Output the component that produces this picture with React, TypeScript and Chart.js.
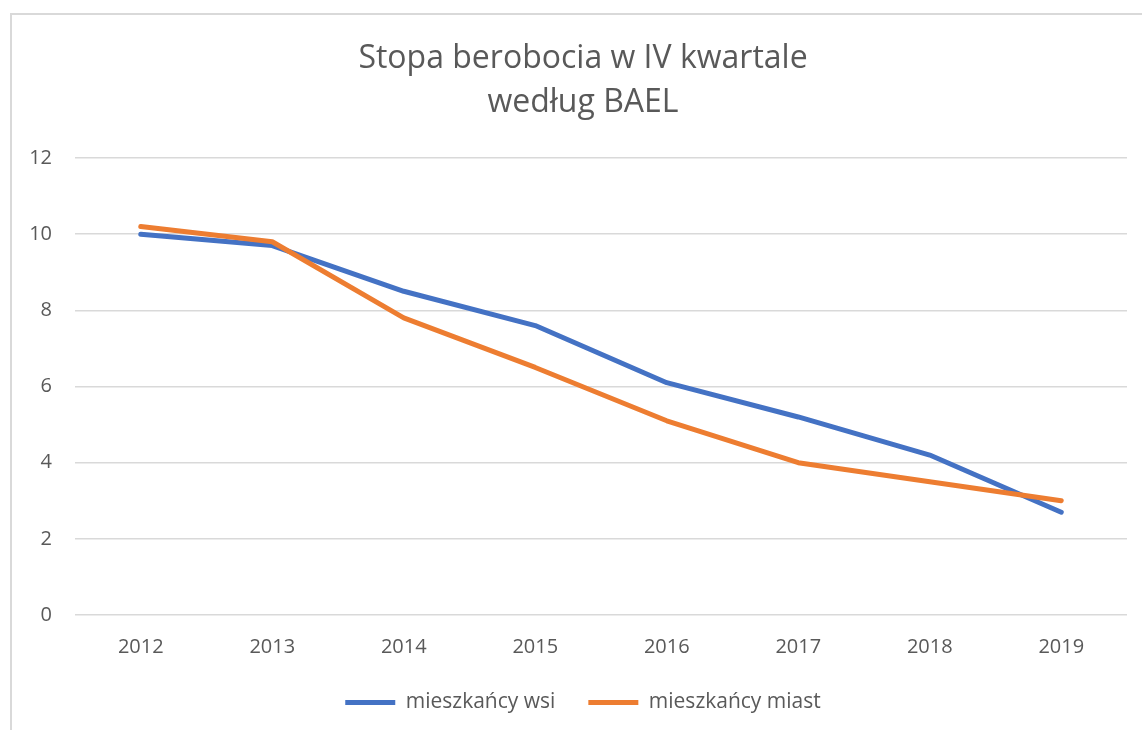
import React, { useEffect, useRef } from "react";
import { Chart, registerables } from "chart.js";

Chart.register(...registerables);

const categories = ["2012", "2013", "2014", "2015", "2016", "2017", "2018", "2019"];
const wsi = [10.0, 9.7, 8.5, 7.6, 6.1, 5.2, 4.2, 2.7];
const miast = [10.2, 9.8, 7.8, 6.5, 5.1, 4.0, 3.5, 3.0];
const titleLines = ["Stopa berobocia w IV kwartale", "według BAEL"];

const FONT = "'Open Sans', sans-serif";
const TEXT = "#595959";
const GRID = "#d9d9d9";

const borderPlugin = {
  id: "outerBorder",
  beforeDraw(chart: any) {
    const ctx = chart.ctx;
    ctx.save();
    ctx.fillStyle = "#ffffff";
    ctx.fillRect(0, 0, chart.width, chart.height);
    ctx.strokeStyle = GRID;
    ctx.lineWidth = 2;
    ctx.beginPath();
    ctx.moveTo(11, chart.height);
    ctx.lineTo(11, 14);
    ctx.lineTo(chart.width, 14);
    ctx.stroke();
    ctx.restore();
  },
  afterLayout(chart: any) {
    if (chart.scales.y) chart.scales.y.left = 12;
  },
};

export default function App() {
  const ref = useRef<HTMLCanvasElement | null>(null);
  useEffect(() => {
    if (!ref.current) return;
    const chart = new Chart(ref.current, {
      type: "line",
      data: {
        labels: categories,
        datasets: [
          {
            label: "mieszkańcy wsi",
            data: wsi,
            borderColor: "#4472C4",
            backgroundColor: "#4472C4",
            borderWidth: 5,
            pointRadius: 0,
            tension: 0,
            borderCapStyle: "round",
            borderJoinStyle: "round",
            order: 1,
          },
          {
            label: "mieszkańcy miast",
            data: miast,
            borderColor: "#ED7D31",
            backgroundColor: "#ED7D31",
            borderWidth: 5,
            pointRadius: 0,
            tension: 0,
            borderCapStyle: "round",
            borderJoinStyle: "round",
            order: 0,
          },
        ],
      },
      options: {
        animation: false,
        responsive: false,
        maintainAspectRatio: false,
        layout: { padding: { left: 39, right: 15, top: 0, bottom: 7 } },
        plugins: {
          title: {
            display: true,
            text: titleLines,
            color: TEXT,
            font: { family: FONT, size: 32, weight: "normal", lineHeight: 1.375 },
            padding: { top: 37, bottom: 33 },
          },
          legend: {
            position: "bottom",
            labels: {
              usePointStyle: true,
              pointStyle: "line",
              pointStyleWidth: 50,
              boxHeight: 20,
              padding: 33,
              color: TEXT,
              font: { family: FONT, size: 21 },
              sort: (a: any, b: any) => a.datasetIndex - b.datasetIndex,
            },
          },
          tooltip: { enabled: false },
        },
        scales: {
          x: {
            offset: true,
            afterFit: (scale: any) => {
              scale.height = 44;
            },
            grid: { display: false, drawTicks: false },
            border: { display: false },
            ticks: { color: TEXT, font: { family: FONT, size: 20 }, padding: 20 },
          },
          y: {
            min: 0,
            max: 12,
            afterFit: (scale: any) => {
              scale.width = 36;
            },
            grid: { color: GRID, lineWidth: 1.5, drawTicks: false },
            border: { display: false },
            ticks: { stepSize: 2, color: TEXT, font: { family: FONT, size: 20 }, padding: 23 },
          },
        },
      },
      plugins: [borderPlugin],
    });
    return () => chart.destroy();
  }, []);
  return (
    <div style={{ position: "fixed", left: 0, top: 0, width: 1142, height: 730, overflow: "hidden", background: "#fff" }}>
      <canvas ref={ref} width={1142} height={730} style={{ display: "block", width: 1142, height: 730 }} />
    </div>
  );
}
